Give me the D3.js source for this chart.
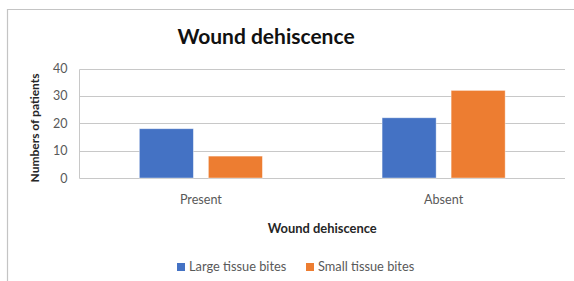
<!DOCTYPE html>
<html>
<head>
<meta charset="utf-8">
<script src="https://cdn.jsdelivr.net/npm/d3@7"></script>
<style>
  body { margin: 0; background: #fff; }
  svg text { font-family: Lato, "Open Sans", sans-serif; }
</style>
</head>
<body>
<div id="chart"></div>
<script>
// dades
const categories = ["Present", "Absent"];
const series = ["Large tissue bites", "Small tissue bites"];
const largeBites = [18, 22];
const smallBites = [8, 32];
const yTicks = [0, 10, 20, 30, 40];

const W = 574, H = 281;
const plot = { left: 79.5, right: 565, top: 68.5, bottom: 178 };

const colors = { "Large tissue bites": "#4472C4", "Small tissue bites": "#ED7D31" };

const rows = categories.map((c, i) => ({
    cat: c,
    values: [
        { key: series[0], value: largeBites[i] },
        { key: series[1], value: smallBites[i] }
    ]
}));

const svg = d3.select("#chart").append("svg")
    .attr("width", W).attr("height", H);

// marc del gràfic
svg.append("path")
    .attr("d", `M7.5,${H} V9.5 H${W}`)
    .attr("fill", "none")
    .attr("stroke", "#c4c4c4")
    .attr("stroke-width", 1.2);

// escales
const x0 = d3.scaleBand()
    .domain(categories)
    .range([plot.left, plot.right])
    .paddingInner(0.493)
    .paddingOuter(0.2465);

const x1 = d3.scaleBand()
    .domain(series)
    .range([0, x0.bandwidth()])
    .paddingInner(0.217);

const y = d3.scaleLinear()
    .domain([0, 40])
    .range([plot.bottom, plot.top]);

// graella
svg.append("g")
    .selectAll("line")
    .data(yTicks)
    .enter().append("line")
        .attr("x1", plot.left).attr("x2", plot.right)
        .attr("y1", d => Math.round(y(d)) + 0.5)
        .attr("y2", d => Math.round(y(d)) + 0.5)
        .attr("stroke", "#c8c8c8")
        .attr("stroke-width", 1);

// línia vertical esquerra
svg.append("line")
    .attr("x1", plot.left).attr("x2", plot.left)
    .attr("y1", Math.round(y(40)) + 0.5).attr("y2", Math.round(y(0)) + 0.5)
    .attr("stroke", "#c8c8c8");

// eix Y
const yAxis = svg.append("g")
    .attr("transform", `translate(${plot.left - 12}, 0)`)
    .call(d3.axisLeft(y).tickValues(yTicks).tickSize(0).tickPadding(0));
yAxis.select(".domain").remove();
yAxis.selectAll("text")
    .style("font-size", "12.5px")
    .style("fill", "#595959");

// barres
svg.append("g")
    .selectAll("g")
    .data(rows)
    .enter().append("g")
        .attr("transform", d => `translate(${x0(d.cat)}, 0)`)
    .selectAll("rect")
    .data(d => d.values)
    .enter().append("rect")
        .attr("x", d => x1(d.key))
        .attr("y", d => y(d.value))
        .attr("width", x1.bandwidth())
        .attr("height", d => y(0) - y(d.value))
        .attr("fill", d => colors[d.key])
        .attr("stroke", "#ffffff")
        .attr("stroke-opacity", 0.5)
        .attr("stroke-width", 0.8);

// eix X (etiquetes)
const xAxis = svg.append("g")
    .attr("transform", `translate(0, ${plot.bottom + 17})`)
    .call(d3.axisBottom(x0).tickSize(0).tickPadding(0));
xAxis.select(".domain").remove();
xAxis.selectAll("text")
    .style("font-size", "12.6px")
    .style("fill", "#595959");

// títol
svg.append("text")
    .attr("x", 266).attr("y", 44)
    .attr("text-anchor", "middle")
    .style("font-size", "21px")
    .style("font-weight", "bold")
    .style("fill", "#111")
    .text("Wound dehiscence");

// títol eix X
svg.append("text")
    .attr("x", (plot.left + plot.right) / 2).attr("y", 233)
    .attr("text-anchor", "middle")
    .style("font-size", "12.9px")
    .style("font-weight", "bold")
    .style("fill", "#262626")
    .text("Wound dehiscence");

// títol eix Y
svg.append("text")
    .attr("transform", "translate(39, 128) rotate(-90)")
    .attr("text-anchor", "middle")
    .style("font-size", "12px")
    .style("font-weight", "bold")
    .style("fill", "#262626")
    .text("Numbers of patients");

// llegenda
const legend = svg.append("g");
const legendX = [177, 306];
series.forEach((s, i) => {
    legend.append("rect")
        .attr("x", legendX[i]).attr("y", 263)
        .attr("width", 8).attr("height", 8)
        .attr("fill", colors[s]);
    legend.append("text")
        .attr("x", legendX[i] + 12).attr("y", 271)
        .style("font-size", "12.8px")
        .style("fill", "#595959")
        .text(s);
});
</script>
</body>
</html>
